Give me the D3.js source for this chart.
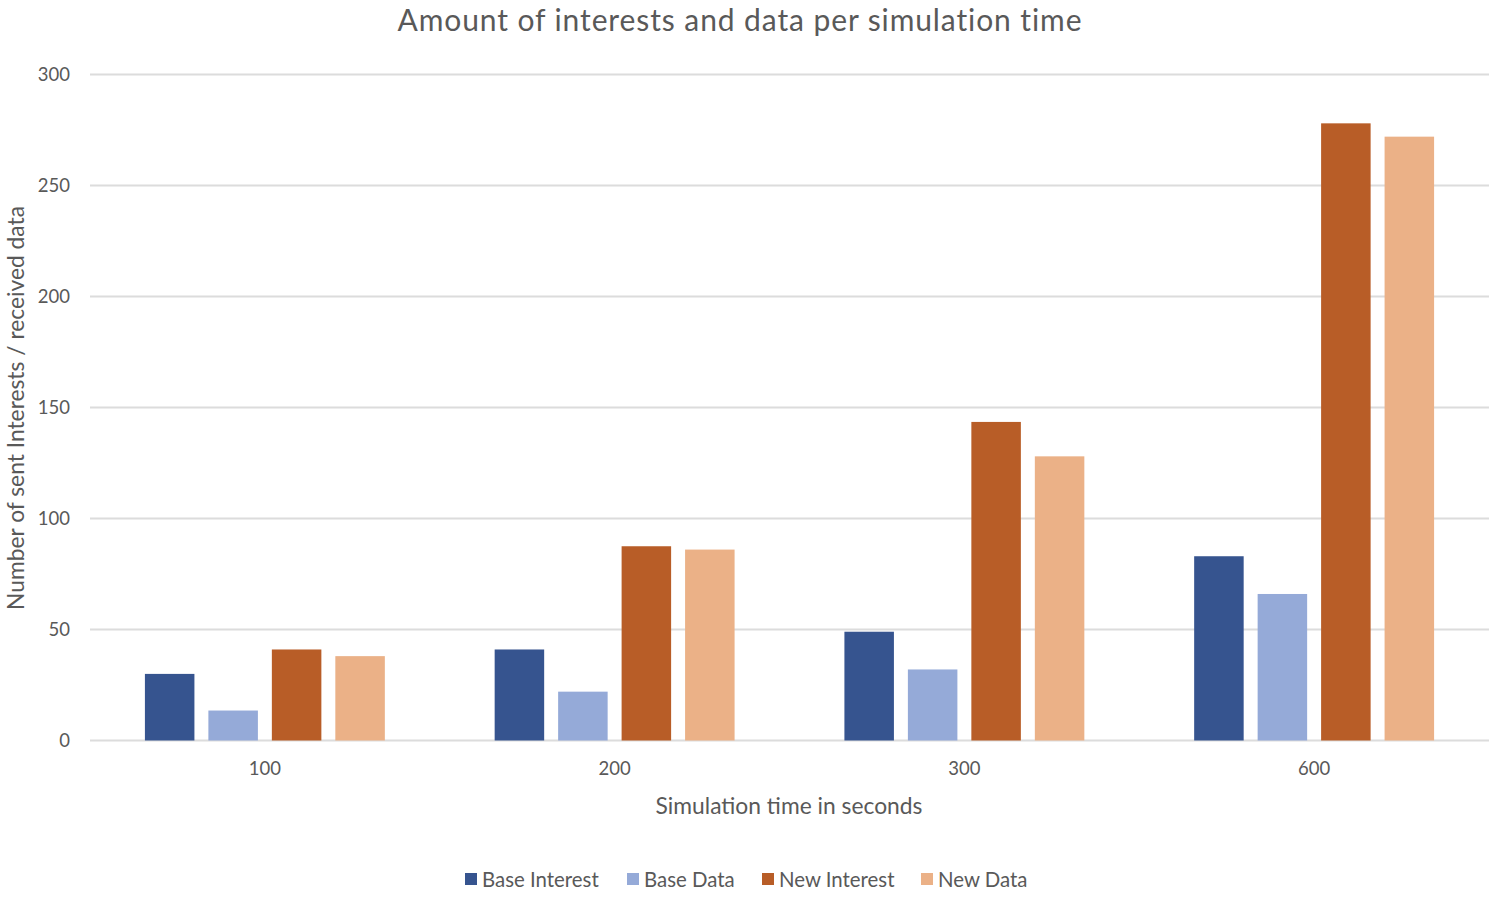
<!DOCTYPE html>
<html><head><meta charset="utf-8">
<script src="https://cdn.jsdelivr.net/npm/d3@7"></script>
<style>body{margin:0;background:#fff;} svg{display:block;}</style>
</head><body>
<svg id="chart" width="1489" height="898"></svg>
<script>
const categories = ["100", "200", "300", "600"];
const seriesNames = ["Base Interest", "Base Data", "New Interest", "New Data"];
const baseInterest = [30, 41, 49, 83];
const baseData = [13.5, 22, 32, 66];
const newInterest = [41, 87.5, 143.5, 278];
const newData = [38, 86, 128, 272];
const yTicks = [0, 50, 100, 150, 200, 250, 300];
const colors = ["#36548f", "#95aad8", "#b85d27", "#ebb187"];

(function () {
const seriesValues = [baseInterest, baseData, newInterest, newData];
const svg = d3.select("#chart");
const font = "Lato, 'Open Sans', sans-serif";
const textColor = "#595959";

const plotLeft = 90, plotRight = 1489, plotTop = 74.5, plotBottom = 740.5;

const x0 = d3.scaleBand().domain(categories).range([plotLeft, plotRight]).paddingInner(0.314).paddingOuter(0.157);
const x1 = d3.scaleBand().domain(seriesNames).range([0, x0.bandwidth()]).paddingInner(0.22);
const y = d3.scaleLinear().domain([0, 300]).range([plotBottom, plotTop]);

// gridlines
svg.append("g").selectAll("line").data(yTicks).join("line")
  .attr("x1", plotLeft).attr("x2", plotRight)
  .attr("y1", d => y(d)).attr("y2", d => y(d))
  .attr("stroke", "#dcdcdc").attr("stroke-width", 2);

// y tick labels
svg.append("g").selectAll("text").data(yTicks).join("text")
  .attr("x", 70).attr("y", d => y(d)).attr("dy", "0.35em")
  .attr("text-anchor", "end").attr("font-family", font).attr("font-size", 18.5)
  .attr("fill", textColor).text(d => d);

// bars
const groups = svg.append("g").selectAll("g").data(categories).join("g")
  .attr("transform", c => `translate(${x0(c)},0)`);
groups.selectAll("rect")
  .data((c, ci) => seriesNames.map((s, si) => ({s, si, v: seriesValues[si][ci]})))
  .join("rect")
  .attr("x", d => x1(d.s)).attr("width", x1.bandwidth())
  .attr("y", d => y(d.v)).attr("height", d => y(0) - y(d.v))
  .attr("fill", d => colors[d.si]);

// x tick labels
svg.append("g").selectAll("text").data(categories).join("text")
  .attr("x", c => x0(c) + x0.bandwidth() / 2).attr("y", 769).attr("dy", "0.35em")
  .attr("text-anchor", "middle").attr("font-family", font).attr("font-size", 18.5)
  .attr("fill", textColor).text(c => c);

// title
svg.append("text").attr("x", 740).attr("y", 31)
  .attr("text-anchor", "middle").attr("font-family", font).attr("font-size", 30)
  .attr("letter-spacing", 0.9)
  .attr("fill", textColor).text("Amount of interests and data per simulation time");

// axis titles
svg.append("text").attr("x", 789).attr("y", 806).attr("dy", "0.35em")
  .attr("text-anchor", "middle").attr("font-family", font).attr("font-size", 22.8)
  .attr("fill", textColor).text("Simulation time in seconds");
svg.append("text").attr("transform", "translate(16,408) rotate(-90)").attr("dy", "0.35em")
  .attr("text-anchor", "middle").attr("font-family", font).attr("font-size", 22.8)
  .attr("fill", textColor).text("Number of sent Interests / received data");

// legend
const legendX = [465, 627, 762, 921];
const lg = svg.append("g").selectAll("g").data(seriesNames).join("g")
  .attr("transform", (d, i) => `translate(${legendX[i]},880)`);
lg.append("rect").attr("x", 0).attr("y", -7).attr("width", 12).attr("height", 12)
  .attr("fill", (d, i) => colors[i]);
lg.append("text").attr("x", 17).attr("y", 0).attr("dy", "0.35em")
  .attr("font-family", font).attr("font-size", 20.4).attr("fill", textColor).text(d => d);
})();
</script>
</body></html>
